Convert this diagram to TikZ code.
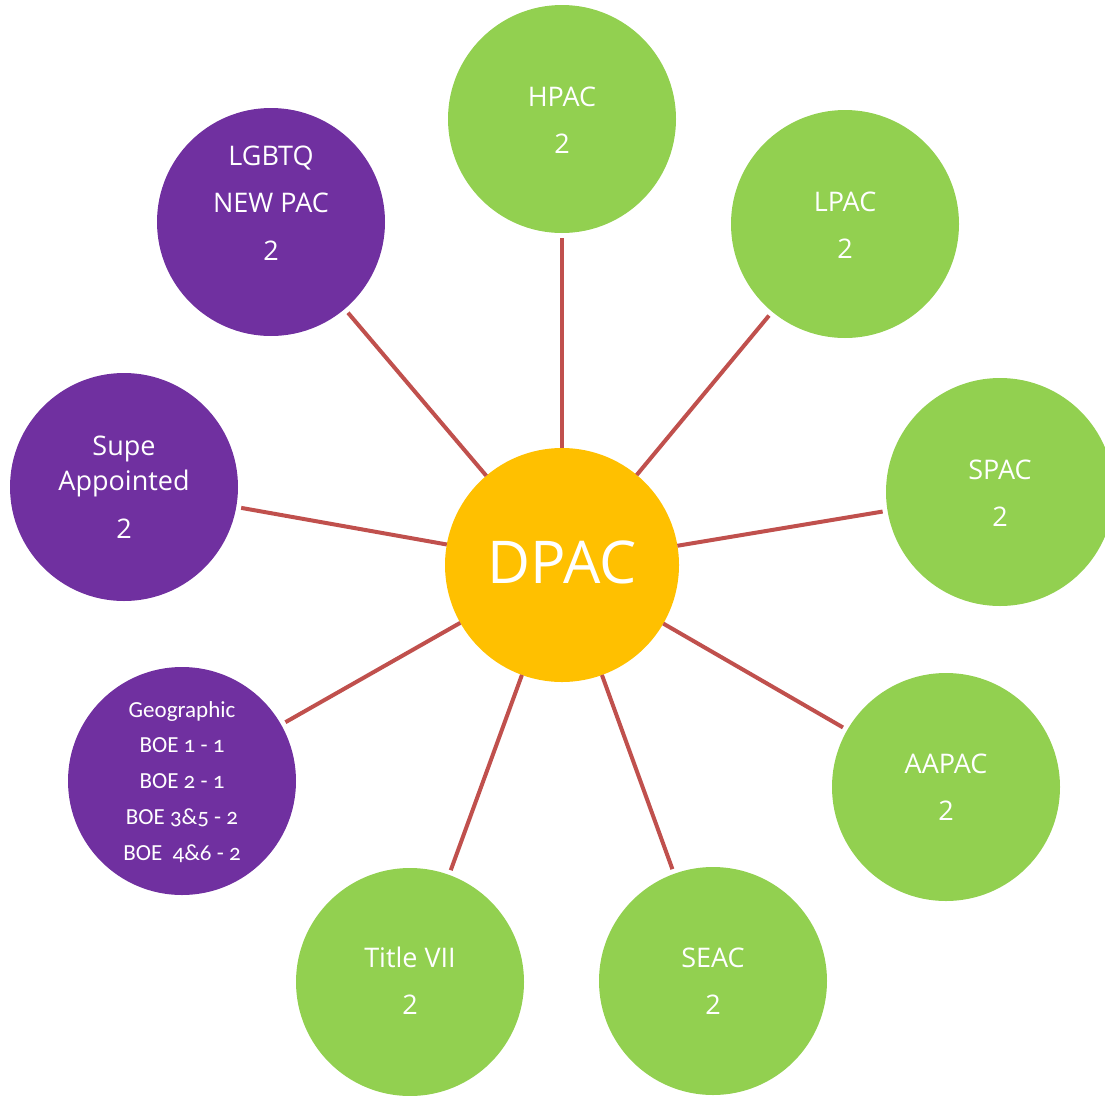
\documentclass[tikz,border=0pt]{standalone}
\usepackage{fontspec}
\setmainfont{Open Sans}
\newfontfamily\geofont[Numbers=OldStyle]{Carlito}
\definecolor{pgreen}{HTML}{92D050}
\definecolor{ppurple}{HTML}{7030A0}
\definecolor{porange}{HTML}{FFC000}
\definecolor{plink}{HTML}{C0504D}
\begin{document}
\begin{tikzpicture}[x=1pt,y=-1pt,
  bubble/.style={circle,draw=none,minimum size=228pt,inner sep=0pt,outer sep=0pt},
  gbub/.style={bubble,fill=pgreen},
  pbub/.style={bubble,fill=ppurple},
  hub/.style={circle,fill=porange,minimum size=234pt,inner sep=0pt,outer sep=0pt},
  link/.style={draw=plink,line width=4pt,shorten >=5pt},
  lbl/.style={text=white,font=\fontsize{27}{46.5}\selectfont,align=center,anchor=base,inner sep=0pt},
  geo/.style={text=white,font=\geofont\fontsize{23}{35.7}\selectfont,align=center,anchor=base,inner sep=0pt}]
\useasboundingbox (0,0) rectangle (1105,1095);
\clip (0,0) rectangle (1105,1095);
% bubbles
\node[hub] (dpac) at (562,565) {};
\node[gbub] (hpac) at (562,119) {};
\node[gbub] (lpac) at (845,224) {};
\node[gbub] (spac) at (1000,492) {};
\node[gbub] (aapac) at (946,787) {};
\node[gbub] (seac) at (713,981) {};
\node[gbub] (title) at (410,982) {};
\node[pbub] (geo) at (182,781) {};
\node[pbub] (supe) at (124,487) {};
\node[pbub] (lgbtq) at (271,222) {};
% connectors
\foreach \n in {hpac,lpac,spac,aapac,seac,title,geo,supe,lgbtq}
  \draw[link] (dpac) -- (\n);
% labels (anchor = baseline of last line)
\node[text=white,font=\fontsize{59}{59}\selectfont,anchor=base,inner sep=0pt] (tdpac) at (562,583) {DPAC};
\node[lbl] (thpac) at (562,153) {HPAC\\2};
\node[lbl] (tlpac) at (845,258) {LPAC\\2};
\node[lbl] (tspac) at (1000,526) {SPAC\\2};
\node[lbl] (taapac) at (946,820) {AAPAC\\2};
\node[lbl] (tseac) at (713,1014) {SEAC\\2};
\node[lbl] (ttitle) at (410,1014) {Title VII\\2};
\node[lbl,font=\fontsize{27}{47.5}\selectfont] (tlgbtq) at (271,260) {LGBTQ\\NEW PAC\\2};
\node[lbl,font=\fontsize{27}{35}\selectfont] (tsupe) at (124,490) {Supe\\Appointed};
\node[lbl] (tsupe2) at (124,538) {2};
\node[geo] (tgeo) at (182,860) {Geographic\\BOE 1 - 1\\BOE 2 - 1\\BOE 3\&5 - 2\\BOE\ \ 4\&6 - 2};
\end{tikzpicture}
\end{document}
